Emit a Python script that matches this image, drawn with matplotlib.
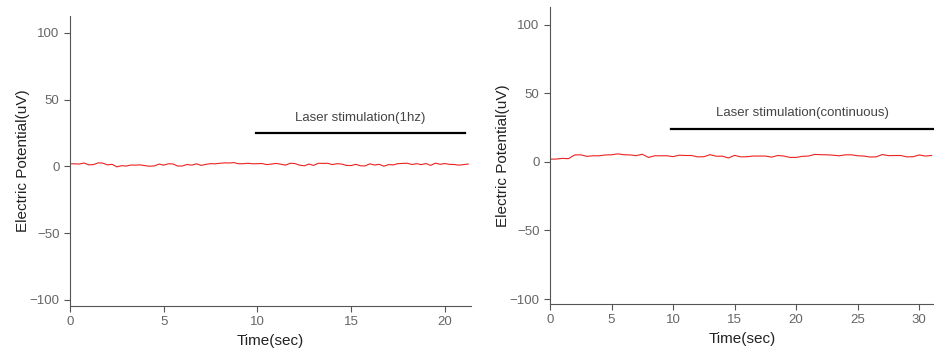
import numpy as np
import matplotlib
matplotlib.use("Agg")
import matplotlib.pyplot as plt

plt.rcParams['font.family'] = ['Liberation Sans', 'DejaVu Sans']

# left recording, laser 1hz, sampled every 0.25 s
t_1hz = np.arange(0, 21.26, 0.25)
v_1hz = [2.0, 2.0, 1.8, 2.6, 1.2, 1.4, 2.7, 2.5, 1.2, 1.6, -0.3, 0.6, 0.3, 1.1, 1.0, 1.2,
         0.6, 0.2, 0.4, 1.8, 1.0, 2.0, 1.9, 0.3, 0.4, 1.5, 1.0, 2.0, 0.8, 1.6, 2.1, 2.0,
         2.4, 2.7, 2.6, 2.9, 2.0, 2.1, 2.4, 2.0, 2.1, 2.2, 1.4, 1.8, 2.3, 1.7, 1.0, 2.4,
         2.2, 1.0, 0.5, 1.8, 0.8, 2.4, 2.3, 2.4, 1.4, 2.1, 1.8, 0.8, 0.7, 1.6, 0.5, 0.4,
         2.0, 1.1, 1.6, 0.2, 1.4, 1.2, 2.1, 2.3, 2.4, 1.5, 2.1, 1.4, 2.2, 0.8, 2.5, 1.6,
         2.2, 1.6, 1.5, 1.0, 1.4, 1.8]

# right recording, continuous laser, sampled every 0.5 s
t_cont = np.arange(0, 31.01, 0.5)
v_cont = [1.95, 2.0, 2.5, 2.3, 5.0, 5.1, 4.0, 4.4, 4.4, 5.0, 5.1, 5.8, 5.2, 5.0, 4.5, 5.5,
          3.2, 4.4, 4.4, 4.4, 3.8, 4.8, 4.6, 4.6, 3.6, 3.7, 5.2, 4.1, 4.1, 2.8, 4.7, 3.6,
          3.7, 4.2, 4.2, 4.2, 3.4, 4.6, 4.2, 3.2, 3.2, 4.0, 4.2, 5.4, 5.2, 5.1, 4.8, 4.4,
          5.1, 5.1, 4.4, 4.2, 3.5, 3.6, 5.3, 4.5, 4.6, 4.6, 3.6, 3.7, 5.0, 4.2, 4.6]

stim_1hz = (9.9, 21.1, 24.7)
stim_cont = (9.8, 31.2, 24.0)

fig = plt.figure(figsize=(9.34, 3.54), dpi=100)
ax1 = fig.add_axes([70/934, 1-306/354, 401/934, 290/354])
ax2 = fig.add_axes([550/934, 1-304/354, 384/934, 297/354])

gray = '#555555'
panels = [
    (ax1, t_1hz, v_1hz, stim_1hz, 'Laser stimulation(1hz)', (0, 21.4), (-104.5, 112.7), [0, 5, 10, 15, 20]),
    (ax2, t_cont, v_cont, stim_cont, 'Laser stimulation(continuous)', (0, 31.2), (-103.6, 112.8), [0, 5, 10, 15, 20, 25, 30]),
]
for ax, t, v, stim, label, xl, yl, xt in panels:
    ax.plot(t, v, color='#ee2222', lw=0.8)
    ax.plot([stim[0], stim[1]], [stim[2], stim[2]], color='black', lw=1.6, clip_on=False)
    ax.text((stim[0] + stim[1]) / 2, stim[2] + 7, label, ha='center', va='bottom',
            fontsize=9.5, color='#444444')
    ax.set_xlim(*xl)
    ax.set_ylim(*yl)
    ax.set_xticks(xt)
    ax.set_yticks([-100, -50, 0, 50, 100])
    ax.set_yticklabels(['−100', '−50', '0', '50', '100'])
    for s in ['top', 'right']:
        ax.spines[s].set_visible(False)
    for s in ['left', 'bottom']:
        ax.spines[s].set_color(gray)
        ax.spines[s].set_linewidth(0.8)
    ax.tick_params(colors=gray, labelcolor='#666666', labelsize=9.5, length=4, width=0.8)
    ax.set_xlabel('Time(sec)', fontsize=11, color='#222222', labelpad=4)
    ax.set_ylabel('Electric Potential(uV)', fontsize=11, color='#222222', labelpad=0)

fig.savefig('out.png', dpi=100)
